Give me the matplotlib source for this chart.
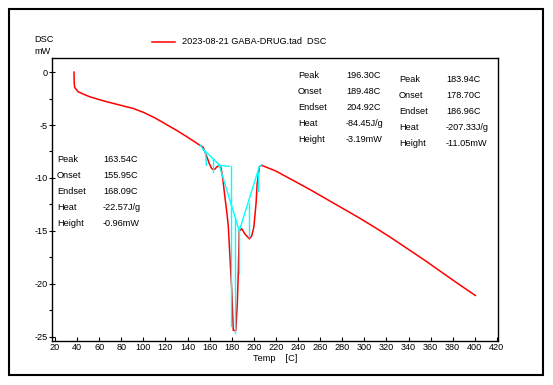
import matplotlib
matplotlib.use("Agg")
import matplotlib.pyplot as plt
from matplotlib.lines import Line2D
from matplotlib.patches import Rectangle

plt.rcParams["font.family"] = ["Liberation Sans", "DejaVu Sans"]
plt.rcParams["font.size"] = 6.6
plt.rcParams["axes.unicode_minus"] = False

# DSC curve (Temp [C], DSC [mW])
temp = [37.2, 37.4, 37.8, 41, 46, 51.7, 60, 66.8, 80, 90.9, 100, 110, 120,
        130, 140, 151, 154.2, 155.7, 157.5, 159.7, 161.8, 163.3, 165, 166,
        168.7, 170.2, 171.7, 173.8, 175.5, 176.9, 178.4, 180, 181.4, 183.7, 185,
        186, 186.8, 189, 192, 196, 198, 200, 202, 203, 205, 207, 220, 235,
        250, 265, 280, 295, 310, 325, 340, 355, 370, 385, 400.5]
dsc = [0.0, -1.0, -1.45, -1.86, -2.1, -2.34, -2.6, -2.8, -3.15, -3.44, -3.8, -4.3,
       -4.9, -5.5, -6.15, -6.9, -7.1, -7.55, -8.0, -8.65, -9.1, -9.2,
       -9.15, -9.0, -8.8, -9.0, -9.9, -11.8, -13.2, -14.6, -17.5, -20.6, -24.4,
       -24.4, -21.9, -18.75, -15.0, -14.8, -15.3, -15.75, -15.5, -14.65, -12.4,
       -10.55, -8.95, -8.8, -9.35, -10.2, -11.05, -11.95, -12.85, -13.75, -14.7,
       -15.7, -16.75, -17.8, -18.9, -20.0, -21.1]

# analysis lines (baselines / peak markers), each a pair of points
seg_x = [(151.5, 156.7), (153.6, 170.2), (156.3, 157.0), (163.3, 163.3),
         (168.0, 177.7), (178.9, 178.9), (168.7, 186.8), (183.3, 183.3),
         (186.3, 186.3), (186.8, 204.9), (195.3, 195.3), (203.4, 203.4),
         (204.9, 207.0)]
seg_y = [(-6.9, -7.7), (-7.23, -8.9), (-7.6, -8.8), (-8.2, -9.4),
         (-8.8, -8.9), (-8.9, -24.0), (-8.8, -15.0), (-13.9, -24.6),
         (-15.0, -19.0), (-15.0, -8.95), (-12.4, -15.6), (-9.4, -11.2),
         (-8.95, -8.75)]

series_name = "2023-08-21 GABA-DRUG.tad  DSC"

# peak results
res_labels = ["Peak", "Onset", "Endset", "Heat", "Height"]
peak1 = ["163.54C", "155.95C", "168.09C", "-22.57J/g", "-0.96mW"]
peak2 = ["183.94C", "178.70C", "186.96C", "-207.33J/g", "-11.05mW"]
peak3 = ["196.30C", "189.48C", "204.92C", "-84.45J/g", "-3.19mW"]

W, H = 553, 385
fig = plt.figure(figsize=(W / 100, H / 100), dpi=100)
fig.patch.set_facecolor("white")
ax = fig.add_axes([52 / W, 1 - 341 / H, (498 - 52) / W, (341 - 58) / H])

ax.plot(temp, dsc, color="#ff0000", lw=1.1)
for sx, sy in zip(seg_x, seg_y):
    ax.plot(sx, sy, color="#00ffff", lw=1.0)

ax.set_xlim(17.3, 421)
ax.set_ylim(-25.4, 1.33)
ax.set_xticks(range(20, 421, 20))
ax.set_yticks([0, -5, -10, -15, -20, -25])
ax.set_yticks([-2.5, -7.5, -12.5, -17.5, -22.5], minor=True)
ax.tick_params(axis="x", direction="in", length=3, width=0.8, pad=1.5)
ax.tick_params(axis="y", which="major", direction="inout", length=4, width=0.8, pad=0.8)
ax.tick_params(axis="y", which="minor", direction="out", length=2, width=0.8)
for s in ax.spines.values():
    s.set_linewidth(1.0)
ax.set_xlabel("Temp    [C]", labelpad=1.5)


def fx(px):
    return px / W


def fy(py):
    return 1 - py / H


# y axis title
fig.text(fx(34), fy(40), "DSC", ha="left", va="center")
fig.text(fx(34), fy(52), "mW", ha="left", va="center")

# legend
fig.add_artist(Line2D([fx(152), fx(175)], [fy(42), fy(42)], color="#ff0000", lw=1.1))
fig.text(fx(182), fy(42), series_name, ha="left", va="center")

# result blocks
blocks = [(57, 103, 160, peak1), (399, 446, 80, peak2), (298, 346, 76, peak3)]
for xl, xv, y0, vals in blocks:
    for i, (lab, v) in enumerate(zip(res_labels, vals)):
        fig.text(fx(xl), fy(y0 + 16 * i), lab, ha="left", va="center")
        fig.text(fx(xv), fy(y0 + 16 * i), v, ha="left", va="center")

# outer frame
fig.add_artist(Rectangle((fx(9), fy(375)), (543 - 9) / W, (375 - 9) / H,
                         transform=fig.transFigure, fill=False, lw=1.5, ec="black"))

fig.savefig("out.png", dpi=100)
